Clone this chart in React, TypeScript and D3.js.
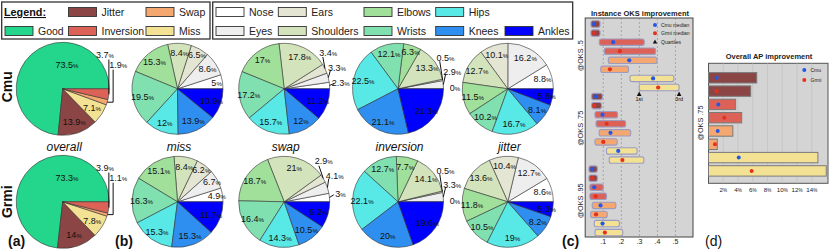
import React from "react";
import * as d3 from "d3";

const FONT = "Liberation Sans, Arial, Helvetica, sans-serif";

// ---------- data ----------
const errorTypes = ["Good", "Jitter", "Miss", "Swap", "Inversion"]; // pie order, CCW from east
const overallCmu = [73.5, 13.9, 7.1, 1.9, 3.7];
const overallGrmi = [73.3, 14, 7.8, 1.1, 3.9];

const keypoints = ["Nose", "Eyes", "Ears", "Shoulders", "Elbows", "Wrists", "Hips", "Knees", "Ankles"];
const missCmu = [5, 8.6, 6.5, 8.4, 15.3, 19.5, 12, 13.9, 10.9];
const swapCmu = [2.3, 3.3, 3.4, 17.8, 17, 17.2, 15.7, 12, 11.2];
const inversionCmu = [0, 2.9, 0.5, 13.3, 6.3, 12.1, 22.5, 21.1, 21.3];
const jitterCmu = [8.8, 16.2, 10.1, 12.7, 11.5, 10.2, 16.7, 8.1, 5.8];
const missGrmi = [4.9, 6.7, 6.2, 8.4, 15.1, 16.3, 15.3, 15.3, 11.7];
const swapGrmi = [3, 4.1, 2.9, 21, 18.7, 16.4, 14.3, 10.5, 9.2];
const inversionGrmi = [0, 3.3, 0.5, 14.1, 7.7, 12.7, 22.1, 20, 19.6];
const jitterGrmi = [8.6, 12.7, 10.4, 13.6, 11.8, 10.5, 19, 8.2, 5.3];

const pieTitles = ["overall", "miss", "swap", "inversion", "jitter"];
const methods = ["Cmu", "Grmi"];

// panel (c): instance OKS improvement (quartiles + median), rows: jitter, inversion, swap, miss x (Cmu, Grmi)
const oksThresholds = ["@OKS .5", "@OKS .75", "@OKS .95"];
const rowTypes = ["Jitter", "Jitter", "Inversion", "Inversion", "Swap", "Swap", "Miss", "Miss"];
const rowMethods = ["Cmu", "Grmi", "Cmu", "Grmi", "Cmu", "Grmi", "Cmu", "Grmi"];
const q1Oks50 = [0.032, 0.032, 0.078, 0.106, 0.128, 0.086, 0.248, 0.299];
const medOks50 = [0.049, 0.05, 0.155, 0.192, 0.244, 0.137, 0.376, 0.404];
const q3Oks50 = [0.082, 0.082, 0.327, 0.39, 0.397, 0.24, 0.491, 0.52];
const q1Oks75 = [0.036, 0.036, 0.054, 0.06, 0.077, 0.054, 0.118, 0.133];
const medOks75 = [0.06, 0.05, 0.096, 0.119, 0.14, 0.1, 0.183, 0.206];
const q3Oks75 = [0.095, 0.09, 0.179, 0.224, 0.252, 0.177, 0.287, 0.325];
const q1Oks95 = [0.021, 0.021, 0.026, 0.026, 0.039, 0.03, 0.05, 0.054];
const medOks95 = [0.039, 0.039, 0.05, 0.058, 0.085, 0.06, 0.096, 0.109];
const q3Oks95 = [0.067, 0.067, 0.1, 0.118, 0.17, 0.122, 0.189, 0.208];
const oksTicks = [0.1, 0.2, 0.3, 0.4, 0.5];

// panel (d): overall AP improvement @OKS .75 (%)
const apImprovement = [6.54, 5.72, 3.68, 4.5, 3.3, 1.19, 14.83, 15.96];
const apMarker = [1.1, 1.1, 1.33, 2.14, 1.25, 0.88, 4.1, 5.85];
const apTicks = [2, 4, 6, 8, 10, 12, 14];

// ---------- styles ----------
const colors: Record<string, string> = {
  Good: "#23d68c",
  Jitter: "#8b4545",
  Inversion: "#dc6257",
  Swap: "#f4a870",
  Miss: "#f4e294",
  Nose: "#ffffff",
  Eyes: "#eeeeee",
  Ears: "#e5e5d4",
  Shoulders: "#d3e4bd",
  Elbows: "#a1e09b",
  Wrists: "#80e0b0",
  Hips: "#58e8e6",
  Knees: "#2e8ff0",
  Ankles: "#0000ff",
};
const methodColors: Record<string, string> = { Cmu: "#2457e6", Grmi: "#e6301e" };

function Pct({ x, y, v, size }: { x: number; y: number; v: number; size: number }) {
  return (
    <text x={x} y={y + size * 0.36} textAnchor="middle" fontSize={size} fill="#111">
      {String(v)}
      <tspan fontSize={size * 0.68}>%</tspan>
    </text>
  );
}

function PieChart({ cx, cy, r, values, names, overall }: any) {
  const arcs = d3
    .pie<number>()
    .sort(null)
    .value((d) => d)
    .startAngle(Math.PI / 2)
    .endAngle(Math.PI / 2 - 2 * Math.PI)(values);
  const arcGen = d3.arc<d3.PieArcDatum<number>>().innerRadius(0).outerRadius(r);
  const pt = (theta: number, rad: number) => [
    cx + rad * Math.cos((theta * Math.PI) / 180),
    cy - rad * Math.sin((theta * Math.PI) / 180),
  ];
  const mids = arcs.map((a) => {
    let t = 90 - (((a.startAngle + a.endAngle) / 2) * 180) / Math.PI;
    t = ((((t + 180) % 360) + 360) % 360) - 180;
    return t;
  });
  const ext = values.map((_: number, i: number) => i).filter((i: number) => values[i] < 4.5);
  const labels: any[] = [];
  const leaders: any[] = [];
  if (overall) {
    const order = [...ext].reverse();
    const angs = [39, 23.5];
    const rads = [1.17, 1.3];
    order.forEach((i: number, k: number) => {
      const [lx, ly] = pt(angs[k], rads[k] * r);
      labels.push({ i, x: lx, y: ly });
      const [ex, ey] = pt(mids[i], r);
      const vx = Math.max(ex, lx - 5);
      leaders.push(`M${vx},${ly + 5}V${ey}H${ex}`);
    });
  } else {
    let prev = -Infinity;
    ext.forEach((i: number) => {
      const th = Math.max(mids[i] * 1.5, prev + 16, 1.5);
      prev = th;
      const [lx, ly] = pt(th, 1.25 * r);
      labels.push({ i, x: lx, y: ly });
      if (values[i] > 0) {
        const [ex, ey] = pt(mids[i], r);
        const [sx, sy] = pt(th, 1.1 * r);
        leaders.push(`M${sx},${sy}L${ex},${ey}`);
      }
    });
  }
  values.forEach((v: number, i: number) => {
    if (ext.includes(i)) return;
    const rad = overall ? 0.75 : v < 7 ? 0.87 : 0.79;
    const [lx, ly] = v > 50 ? pt(80, 0.52 * r) : pt(mids[i], rad * r);
    labels.push({ i, x: lx, y: ly });
  });
  return (
    <g>
      {arcs.map((a, i) => (
        <path
          key={i}
          d={arcGen(a) || ""}
          transform={`translate(${cx},${cy})`}
          fill={colors[names[i]]}
          stroke="#333"
          strokeWidth={0.6}
        />
      ))}
      {leaders.map((d, k) => (
        <path key={k} d={d} fill="none" stroke="#111" strokeWidth={1} />
      ))}
      {labels.map((l, k) => (
        <Pct key={k} x={l.x} y={l.y} v={values[l.i]} size={9} />
      ))}
    </g>
  );
}

function Legend() {
  const box1 = [
    { name: "Jitter", x: 68.5, row: 0 },
    { name: "Swap", x: 146, row: 0 },
    { name: "Good", x: 5, row: 1 },
    { name: "Inversion", x: 68.5, row: 1 },
    { name: "Miss", x: 146, row: 1 },
  ];
  const box2 = [
    { name: "Nose", x: 216, row: 0 },
    { name: "Ears", x: 278.3, row: 0 },
    { name: "Elbows", x: 364, row: 0 },
    { name: "Hips", x: 435.7, row: 0 },
    { name: "Eyes", x: 216, row: 1 },
    { name: "Shoulders", x: 278.3, row: 1 },
    { name: "Wrists", x: 364, row: 1 },
    { name: "Knees", x: 435.7, row: 1 },
    { name: "Ankles", x: 505, row: 1 },
  ];
  const rowY = [12, 31];
  const items = [...box1, ...box2];
  return (
    <g>
      <rect x={1.7} y={2} width={208.3} height={37} fill="none" stroke="#333" strokeWidth={1.3} />
      <rect x={212.7} y={2} width={360} height={37} fill="none" stroke="#333" strokeWidth={1.3} />
      <text x={4} y={rowY[0] + 4} fontSize={10.8} fontWeight="bold" textDecoration="underline" fill="#111">
        Legend:
      </text>
      {items.map((it) => (
        <g key={it.name}>
          <rect
            x={it.x}
            y={rowY[it.row] - 4.5}
            width={28}
            height={9}
            fill={colors[it.name]}
            stroke="#333"
            strokeWidth={0.9}
          />
          <text x={it.x + 33} y={rowY[it.row] + 4} fontSize={10.5} fill="#222">
            {it.name}
          </text>
        </g>
      ))}
    </g>
  );
}

function PanelC() {
  const left = 585.2,
    right = 693,
    top = 18,
    bottom = 237;
  const x = d3.scaleLinear().domain([0, 0.597]).range([left, right]);
  const q1s = [q1Oks50, q1Oks75, q1Oks95];
  const meds = [medOks50, medOks75, medOks95];
  const q3s = [q3Oks50, q3Oks75, q3Oks95];
  const rows = oksThresholds.flatMap((t, g) =>
    rowTypes.map((type, i) => ({
      key: g * 8 + i,
      group: g,
      type,
      method: rowMethods[i],
      q1: q1s[g][i],
      med: meds[g][i],
      q3: q3s[g][i],
    }))
  );
  const y = d3
    .scalePoint<number>()
    .domain(rows.map((r) => r.key))
    .range([24, 232.6]);
  const quartRow = rows[7];
  return (
    <g>
      <text x={640} y={15.8} textAnchor="middle" fontSize={7.5} fontWeight="bold" fill="#222">
        Instance OKS improvement
      </text>
      <rect x={left} y={top} width={right - left} height={bottom - top} fill="#d4d4d4" stroke="#444" strokeWidth={1} />
      {oksTicks.map((t) => (
        <g key={t}>
          <line x1={x(t)} x2={x(t)} y1={top} y2={bottom} stroke="#8a8a8a" strokeWidth={0.6} strokeDasharray="2,2" />
          <text x={x(t)} y={244} textAnchor="middle" fontSize={7} fill="#222">
            {"." + Math.round(t * 10)}
          </text>
        </g>
      ))}
      {rows.map((r) => (
        <g key={r.key}>
          <rect
            x={x(r.q1)}
            y={(y(r.key) as number) - 3.2}
            width={x(r.q3) - x(r.q1)}
            height={6.4}
            rx={2}
            fill={colors[r.type]}
            stroke="#9c9cc0"
            strokeWidth={1.1}
          />
          <circle cx={x(r.med)} cy={y(r.key) as number} r={2.1} fill={methodColors[r.method]} />
        </g>
      ))}
      {oksThresholds.map((t, g) => {
        const cy = ((y(g * 8) as number) + (y(g * 8 + 7) as number)) / 2;
        return (
          <text
            key={t}
            transform={`translate(583,${cy}) rotate(-90)`}
            textAnchor="middle"
            fontSize={7.3}
            fill="#222"
          >
            {t}
          </text>
        );
      })}
      {[quartRow.q1, quartRow.q3].map((v, k) => {
        const yy = (y(quartRow.key) as number) + 6;
        const xx = x(v);
        return (
          <g key={k}>
            <path d={`M${xx - 2.3},${yy + 2.5}L${xx + 2.3},${yy + 2.5}L${xx},${yy - 2}Z`} fill="#111" />
            <text x={xx} y={yy + 7.5} textAnchor="middle" fontSize={5.5} fill="#111">
              {k === 0 ? "1st" : "3rd"}
            </text>
          </g>
        );
      })}
      {/* legend */}
      <circle cx={655} cy={25} r={2} fill={methodColors.Cmu} />
      <text x={661} y={26.8} fontSize={5} fill="#222">Cmu median</text>
      <circle cx={655} cy={33.3} r={2} fill={methodColors.Grmi} />
      <text x={661} y={35.1} fontSize={5} fill="#222">Grmi median</text>
      <path d="M652.8,43.6L657.2,43.6L655,39.6Z" fill="#111" />
      <text x={661} y={43.5} fontSize={5} fill="#222">Quartiles</text>
      <text x={562} y={246} fontSize={14} fontWeight="bold" fill="#111">(c)</text>
    </g>
  );
}

function PanelD() {
  const left = 708.5,
    right = 828,
    top = 63.3,
    bottom = 183.3;
  const x = d3.scaleLinear().domain([0, 16.2]).range([left, right]);
  const y = d3
    .scalePoint<number>()
    .domain(apImprovement.map((_, i) => i))
    .range([77.8, 170.9]);
  return (
    <g>
      <text x={769} y={58.5} textAnchor="middle" fontSize={7.5} fontWeight="bold" fill="#222">
        Overall AP improvement
      </text>
      <rect x={left} y={top} width={right - left} height={bottom - top} fill="#d4d4d4" stroke="#555" strokeWidth={1} />
      {apTicks.map((t) => (
        <g key={t}>
          <line x1={x(t)} x2={x(t)} y1={top} y2={bottom} stroke="#bdbdbd" strokeWidth={0.6} />
          <text x={x(t)} y={191.5} textAnchor="middle" fontSize={6.2} fill="#222">
            {t}
            <tspan fontSize={4.6}>%</tspan>
          </text>
        </g>
      ))}
      {apImprovement.map((v, i) => (
        <g key={i}>
          <rect
            x={x(0)}
            y={(y(i) as number) - 5.2}
            width={x(v) - x(0)}
            height={10.4}
            fill={colors[rowTypes[i]]}
            stroke="#7a7a7a"
            strokeWidth={1}
          />
          <circle cx={x(apMarker[i])} cy={y(i) as number} r={2} fill={methodColors[rowMethods[i]]} />
        </g>
      ))}
      <text transform={`translate(702.5,123) rotate(-90)`} textAnchor="middle" fontSize={7.3} fill="#222">
        @OKS .75
      </text>
      <circle cx={804.3} cy={70} r={2} fill={methodColors.Cmu} />
      <text x={810.5} y={71.8} fontSize={5} fill="#222">Cmu</text>
      <circle cx={804.3} cy={80} r={2} fill={methodColors.Grmi} />
      <text x={810.5} y={81.8} fontSize={5} fill="#222">Grmi</text>
      <text x={705} y={246} fontSize={14} fill="#111">(d)</text>
    </g>
  );
}

export default function App() {
  const pieX = [62.7, 177.5, 284.2, 398, 507.8];
  const rowY = [88.8, 201.8];
  const bySet = [
    [overallCmu, missCmu, swapCmu, inversionCmu, jitterCmu],
    [overallGrmi, missGrmi, swapGrmi, inversionGrmi, jitterGrmi],
  ];
  return (
    <svg
      width={830}
      height={249}
      style={{ position: "absolute", left: 0, top: 0, background: "#fff" }}
      fontFamily={FONT}
    >
      <rect x={0} y={0} width={830} height={249} fill="#fff" />
      <Legend />
      {bySet.map((set, m) =>
        set.map((vals, p) => (
          <PieChart
            key={`${m}-${p}`}
            cx={pieX[p]}
            cy={rowY[m]}
            r={p === 0 ? 46.5 : 45.5}
            values={vals}
            names={p === 0 ? errorTypes : keypoints}
            overall={p === 0}
          />
        ))
      )}
      {pieTitles.map((t, p) => (
        <text key={t} x={pieX[p] + 1.5} y={150.5} textAnchor="middle" fontSize={12} fontStyle="italic" fill="#111">
          {t}
        </text>
      ))}
      {methods.map((m, i) => (
        <text
          key={m}
          transform={`translate(12,${[86.7, 201.7][i]}) rotate(-90)`}
          textAnchor="middle"
          fontSize={14}
          fontWeight="bold"
          fill="#111"
        >
          {m}
        </text>
      ))}
      <text x={8} y={245.5} fontSize={14} fontWeight="bold" fill="#111">(a)</text>
      <text x={115} y={245.5} fontSize={14} fontWeight="bold" fill="#111">(b)</text>
      <PanelC />
      <PanelD />
    </svg>
  );
}
